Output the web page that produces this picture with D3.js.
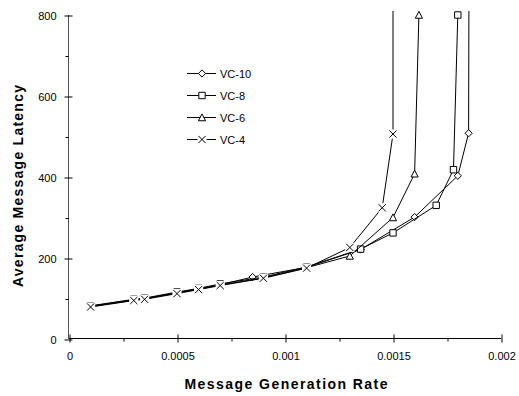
<!DOCTYPE html>
<html>
<head>
<meta charset="utf-8">
<script src="https://cdn.jsdelivr.net/npm/d3@7"></script>
<style>
  html, body { margin: 0; padding: 0; background: #fff; }
  svg { display: block; font-family: Arial, "Liberation Sans", sans-serif; }
</style>
</head>
<body>
<svg id="chart" width="519" height="396"></svg>
<script>
// Latency vs. generation rate for different virtual-channel counts
const seriesNames = ["VC-10", "VC-8", "VC-6", "VC-4"];

const vc10Rate    = [0.0001, 0.0003, 0.00035, 0.0005, 0.0006, 0.0007, 0.00085, 0.0011, 0.00135, 0.0016, 0.0018, 0.00185, 0.001855];
const vc10Latency = [81, 97, 100, 114, 124, 134, 153, 177, 221, 301, 403, 508, 1600];

const vc8Rate     = [0.0001, 0.0003, 0.00035, 0.0005, 0.0006, 0.0007, 0.0009, 0.0011, 0.00135, 0.0015, 0.0017, 0.00178, 0.0018];
const vc8Latency  = [82, 98, 101, 116, 125, 136, 153, 178, 222, 262, 330, 418, 800];

const vc6Rate     = [0.0001, 0.0003, 0.00035, 0.0005, 0.0006, 0.0007, 0.0009, 0.0011, 0.0013, 0.0015, 0.0016, 0.00162];
const vc6Latency  = [80, 96, 99, 114, 123, 133, 151, 176, 205, 300, 408, 800];

const vc4Rate     = [0.0001, 0.0003, 0.00035, 0.0005, 0.0006, 0.0007, 0.0009, 0.0011, 0.0013, 0.00145, 0.0015, 0.0015];
const vc4Latency  = [79, 95, 98, 112, 122, 132, 150, 175, 226, 324, 506, 1600];

const xTicks = [0, 0.0005, 0.001, 0.0015, 0.002];
const xTickLabels = ["0", "0.0005", "0.001", "0.0015", "0.002"];
const xMinorTicks = [0.00025, 0.00075, 0.00125, 0.00175];
const yTicks = [0, 200, 400, 600, 800];
const yTickLabels = ["0", "200", "400", "600", "800"];
const yMinorTicks = [100, 300, 500, 700];

const xTitle = "Message Generation Rate";
const yTitle = "Average Message Latency";

// marker shapes
const diamond = { draw(c) { const r = 3.6; c.moveTo(0, -r); c.lineTo(r, 0); c.lineTo(0, r); c.lineTo(-r, 0); c.closePath(); } };
const square = { draw(c) { const r = 3.2; c.moveTo(-r, -r); c.lineTo(r, -r); c.lineTo(r, r); c.lineTo(-r, r); c.closePath(); } };
const triangle = { draw(c) { const r = 3.6; c.moveTo(0, -r); c.lineTo(r, r * 0.9); c.lineTo(-r, r * 0.9); c.closePath(); } };
const cross = { draw(c) { const r = 3.6; c.moveTo(-r, -r); c.lineTo(r, r); c.moveTo(r, -r); c.lineTo(-r, r); } };
// white pad behind the cross so it masks whatever lies under it
const crossPad = { draw(c) { const r = 4.6; c.moveTo(-r, -r); c.lineTo(r, -r); c.lineTo(r, r); c.lineTo(-r, r); c.closePath(); } };

const series = [
  { name: seriesNames[0], xs: vc10Rate, ys: vc10Latency, shape: diamond },
  { name: seriesNames[1], xs: vc8Rate,  ys: vc8Latency,  shape: square },
  { name: seriesNames[2], xs: vc6Rate,  ys: vc6Latency,  shape: triangle },
  { name: seriesNames[3], xs: vc4Rate,  ys: vc4Latency,  shape: cross }
];

function drawMarker(sel, shape) {
  if (shape === cross) {
    sel.append("path").attr("d", d3.symbol().type(crossPad)).attr("fill", "#fff").attr("stroke", "none");
    sel.append("path").attr("d", d3.symbol().type(cross)).attr("fill", "none").attr("stroke", "#000");
  } else {
    sel.append("path").attr("d", d3.symbol().type(shape)).attr("fill", "#fff").attr("stroke", "#000");
  }
}

const svg = d3.select("#chart");
const x = d3.scaleLinear().domain([0, 0.002]).range([69, 501]);
const y = d3.scaleLinear().domain([0, 800]).range([339, 15]);

// clip region for the plot
svg.append("defs").append("clipPath").attr("id", "plotClip")
  .append("rect").attr("x", x(0) + 1).attr("y", y(810)).attr("width", x(0.002) - x(0) + 10).attr("height", y(0) - y(810) - 1);

// x axis (major ticks cross the line, minor ticks hang below)
const xAxis = svg.append("g").attr("transform", `translate(0.5,${y(0) - 0.5})`)
  .call(d3.axisBottom(x).tickValues(xTicks).tickFormat((d, i) => xTickLabels[i]).tickSizeOuter(0).tickSize(4).tickPadding(10));
xAxis.select(".domain").attr("stroke", "#000").attr("d", `M${x(0) - 0.5},0H${x(0.002) - 0.5}`);
xAxis.selectAll(".tick line").attr("y1", -4).attr("y2", 4).attr("stroke", "#000");
xAxis.selectAll(".tick text").attr("font-size", 11).attr("fill", "#000").attr("font-family", "Arial, 'Liberation Sans', sans-serif");
svg.append("g").attr("transform", `translate(0.5,${y(0) - 0.5})`)
  .call(d3.axisBottom(x).tickValues(xMinorTicks).tickFormat("").tickSize(3).tickSizeOuter(0))
  .call(g => g.select(".domain").remove())
  .selectAll(".tick line").attr("stroke", "#000");

// y axis
const yAxis = svg.append("g").attr("transform", `translate(${x(0) - 0.5},0.5)`)
  .call(d3.axisLeft(y).tickValues(yTicks).tickFormat((d, i) => yTickLabels[i]).tickSize(4).tickSizeOuter(0).tickPadding(8));
yAxis.select(".domain").attr("stroke", "#555").attr("d", `M0,${y(0) - 0.5}V${y(800) - 0.5}`);
yAxis.selectAll(".tick line").attr("x1", -4).attr("x2", 4).attr("stroke", "#000");
yAxis.selectAll(".tick text").attr("font-size", 11).attr("fill", "#000").attr("font-family", "Arial, 'Liberation Sans', sans-serif");
svg.append("g").attr("transform", `translate(${x(0) - 0.5},0.5)`)
  .call(d3.axisLeft(y).tickValues(yMinorTicks).tickFormat("").tickSize(3).tickSizeOuter(0))
  .call(g => g.select(".domain").remove())
  .selectAll(".tick line").attr("stroke", "#000");

// series lines and markers
const line = d3.line().x(d => x(d[0])).y(d => y(d[1]));
const plot = svg.append("g").attr("clip-path", "url(#plotClip)");
series.forEach(s => {
  const pts = s.xs.map((v, i) => [v, s.ys[i]]);
  const g = plot.append("g");
  g.append("path").datum(pts).attr("d", line)
    .attr("fill", "none").attr("stroke", "#000").attr("stroke-width", 1);
  g.selectAll(null).data(pts.filter(p => p[1] <= 800)).enter().append("g")
    .attr("transform", p => `translate(${x(p[0])},${y(p[1])})`)
    .each(function () { drawMarker(d3.select(this), s.shape); });
});

// legend
const legend = svg.append("g").attr("transform", "translate(187,73)");
series.forEach((s, i) => {
  const g = legend.append("g").attr("transform", `translate(0,${i * 22})`);
  g.append("line").attr("x1", 0).attr("x2", 29).attr("y1", 0.5).attr("y2", 0.5).attr("stroke", "#000");
  drawMarker(g.append("g").attr("transform", "translate(15,0.5)"), s.shape);
  g.append("text").attr("x", 33).attr("y", 4.5).attr("font-size", 11).attr("fill", "#000").text(s.name);
});

// axis titles
svg.append("text").attr("x", 286).attr("y", 389).attr("text-anchor", "middle")
  .attr("font-size", 14).attr("font-weight", "bold").attr("fill", "#000")
  .attr("textLength", 203).attr("lengthAdjust", "spacing").text(xTitle);
svg.append("text").attr("transform", "translate(22.5,186) rotate(-90)").attr("text-anchor", "middle")
  .attr("font-size", 14).attr("font-weight", "bold").attr("fill", "#000")
  .attr("textLength", 202).attr("lengthAdjust", "spacing").text(yTitle);
</script>
</body>
</html>
